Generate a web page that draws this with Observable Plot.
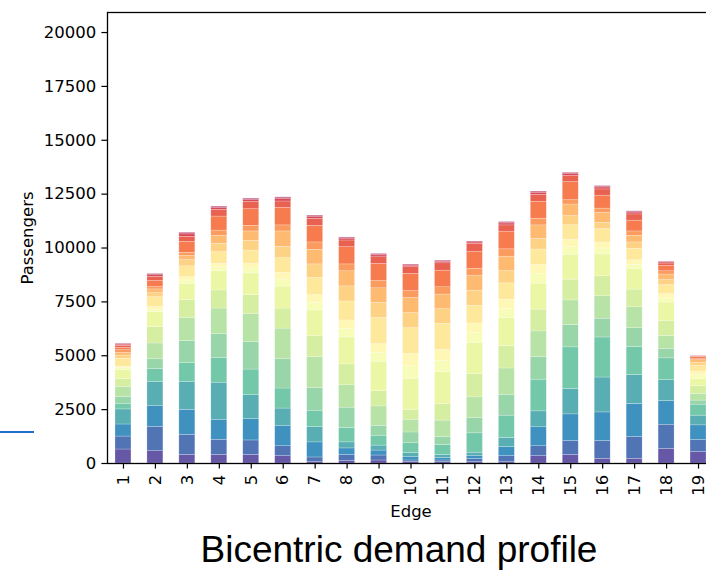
<!DOCTYPE html>
<html><head><meta charset="utf-8">
<script src="https://cdn.jsdelivr.net/npm/d3@7"></script>
<script src="https://cdn.jsdelivr.net/npm/@observablehq/plot@0.6"></script>
<style>
body{margin:0;background:#fff;width:706px;height:570px;overflow:hidden;position:relative;}
#chart{position:absolute;left:0;top:0;}
#title{position:absolute;left:0;width:798px;top:531px;text-align:center;font-family:"Liberation Sans",Arial,sans-serif;font-size:37px;color:#000;line-height:1;white-space:nowrap;}
#blue{position:absolute;left:0;top:431px;width:34px;height:2px;background:#1f6fd1;}
</style></head><body>
<div id="chart"></div><div id="title">Bicentric demand profile</div><div id="blue"></div>
<script>
// Edge categories
const edges = [1,2,3,4,5,6,7,8,9,10,11,12,13,14,15,16,17,18,19];
// Passengers per stacked segment (bottom segment first, 20 segments per edge)
const edge1  = [650,600,560,700,260,320,460,370,420,80,75,360,155,125,125,110,90,55,20,15];
const edge2  = [570,1130,960,1130,590,460,730,760,700,115,115,460,190,170,110,280,190,85,35,20];
const edge3  = [400,930,1160,1300,880,1010,1080,820,760,155,155,500,290,190,150,510,230,115,45,30];
const edge4  = [400,700,930,1720,1140,1110,1190,840,900,170,170,540,390,360,250,650,310,90,35,25];
const edge5  = [400,670,990,1110,1190,1270,1310,870,1010,230,230,600,460,430,260,770,340,90,35,25];
const edge6  = [340,460,930,820,930,1360,1420,930,1020,325,325,670,530,710,280,820,290,115,45,30];
const edge7  = [60,220,700,710,760,1040,1450,970,1190,355,355,800,630,680,340,770,320,90,35,25];
const edge8  = [110,280,310,280,670,940,1040,970,1250,395,395,880,700,700,320,800,310,85,35,20];
const edge9  = [140,230,230,230,460,460,900,710,1360,410,410,1210,710,670,340,790,310,90,35,25];
const edge10 = [60,80,150,200,450,500,590,460,1440,580,580,1190,700,700,320,800,310,70,30,20];
const edge11 = [60,80,120,140,460,360,770,770,1490,510,510,1210,680,680,340,770,340,70,30,20];
const edge12 = [60,150,150,140,900,700,970,1080,1450,450,450,820,700,700,320,790,360,65,25,20];
const edge13 = [60,280,420,420,1040,970,1220,1040,1300,425,425,760,570,670,340,820,290,90,35,25];
const edge14 = [340,460,880,740,1470,1050,1190,1010,1210,435,435,710,500,620,310,790,320,90,35,25];
const edge15 = [390,650,1240,1180,1930,1040,1140,960,1160,350,350,670,420,540,200,840,280,90,35,25];
const edge16 = [220,820,1330,1620,1860,870,1040,930,1010,280,280,620,290,460,200,600,290,90,35,25];
const edge17 = [220,1010,1530,1350,1300,870,970,820,940,210,210,540,290,310,200,500,290,85,35,20];
const edge18 = [670,1130,1100,970,1010,420,620,700,850,195,195,420,230,260,150,250,110,50,20,10];
const edge19 = [530,560,680,450,510,190,310,360,320,180,180,260,150,110,50,90,30,20,5,5];
const yTicks = [0,2500,5000,7500,10000,12500,15000,17500,20000];
const spectral = ["#9e0142","#d53e4f","#f46d43","#fdae61","#fee08b","#ffffbf","#e6f598","#abdda4","#66c2a5","#3288bd","#5e4fa2"];

const rows = [edge1,edge2,edge3,edge4,edge5,edge6,edge7,edge8,edge9,edge10,edge11,edge12,edge13,edge14,edge15,edge16,edge17,edge18,edge19];
const nSeg = edge1.length;
const interp = d3.piecewise(d3.interpolateRgb, spectral);
const segIds = d3.range(nSeg);
const colors = segIds.map(i => interp(1 - i/(nSeg-1)));
const table = edges.flatMap((e, i) => rows[i].map((v, j) => ({edge: e, seg: j, value: v})));

const chart = Plot.plot({
  width: 706, height: 525,
  marginLeft: 107, marginRight: -8, marginTop: 12, marginBottom: 62,
  style: {fontFamily: "'DejaVu Sans', sans-serif", fontSize: "16.5px", background: "white", color: "black"},
  x: {type: "band", domain: edges, paddingInner: 0.5, paddingOuter: 0.25, round: false},
  y: {domain: [0, 20930]},
  color: {type: "ordinal", domain: segIds, range: colors},
  marks: [
    Plot.barY(table, {x: "edge", y: "value", fill: "seg", fillOpacity: 0.95, stroke: "white", strokeWidth: 0.5, strokeOpacity: 0.45}),
    Plot.axisY({ticks: yTicks, tickFormat: d3.format("d"), tickSize: 5.6, tickPadding: 5.6, strokeWidth: 1.2,
      label: "Passengers", labelAnchor: "center", labelOffset: 86, labelArrow: "none"}),
    Plot.axisX({tickSize: 5.6, tickPadding: 5.6, tickRotate: -90, strokeWidth: 1.2,
      label: "Edge", labelAnchor: "center", labelOffset: 53, labelArrow: "none"}),
    Plot.frame({stroke: "black", strokeWidth: 1.3})
  ]
});
document.getElementById("chart").appendChild(chart);
</script></body></html>
